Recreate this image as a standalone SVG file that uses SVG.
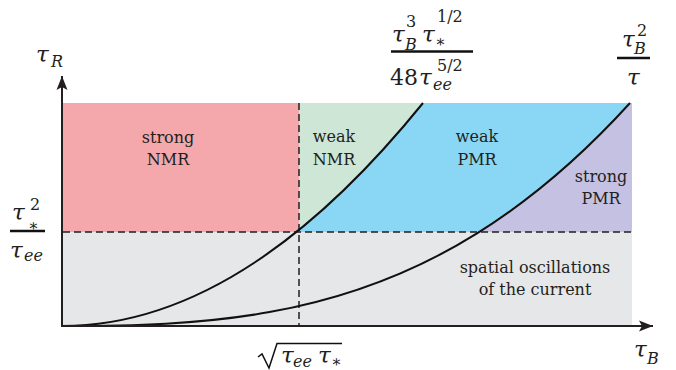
<svg xmlns="http://www.w3.org/2000/svg" width="676" height="370" viewBox="0 0 676 370">
<style>
.lbl{font-family:"DejaVu Serif",serif;font-size:16px;fill:#231f20;text-anchor:middle}
.m{font-family:"DejaVu Serif",serif;fill:#231f20;font-size:23px}
.it{font-style:italic}
.sm{font-size:16px}
.dash{stroke:#231f20;stroke-width:1.5;stroke-dasharray:7 4;fill:none}
.curve{stroke:#111;stroke-width:2;fill:none}
.axis{stroke:#231f20;stroke-width:2;fill:none}
.bar{stroke:#111;stroke-width:2.5}
</style>
<defs>
<marker id="arr" markerUnits="userSpaceOnUse" markerWidth="15" markerHeight="12" refX="14" refY="5.5" orient="auto" viewBox="0 0 15 11">
<path d="M0,0 L14,5.5 L0,11 L3,5.5 Z" fill="#231f20"/>
</marker>
<clipPath id="band"><rect x="63" y="103" width="569" height="129"/></clipPath>
</defs>
<g id="regions">
<rect id="oscillations" x="63" y="232" width="569" height="94" fill="#E6E7E8"/>
<rect id="strongNMR" x="63" y="103" width="236" height="129" fill="#F5A8AC"/>
<rect id="weakNMR" x="299" y="103" width="333" height="129" fill="#CDE6D6"/>
<path id="weakPMR" clip-path="url(#band)" d="M62,326 Q242.5,326 423,103 L632,103 L632,326 Z" fill="#8AD7F5"/>
<path id="strongPMR" clip-path="url(#band)" d="M62,326 C200.3,326 338.7,319.8 477,233.4 C528,201.5 579,159.1 630,103 L632,103 L632,326 Z" fill="#C5C1E2"/>
</g>
<g id="connectors">
<line class="dash" x1="63" y1="232" x2="632" y2="232"/>
<line class="dash" x1="299" y1="103" x2="299" y2="326"/>
<path class="curve" d="M62,326 Q242.5,326 423,103"/>
<path class="curve" d="M62,326 C200.3,326 338.7,319.8 477,233.4 C528,201.5 579,159.1 630,103"/>
<line class="axis" x1="62" y1="327" x2="62" y2="76" marker-end="url(#arr)"/>
<line class="axis" x1="61" y1="326" x2="653" y2="326" marker-end="url(#arr)"/>
</g>
<g id="labels">
<text class="lbl" x="168" y="143">strong</text>
<text class="lbl" x="168" y="165">NMR</text>
<text class="lbl" x="334" y="142">weak</text>
<text class="lbl" x="334" y="165">NMR</text>
<text class="lbl" x="477" y="142">weak</text>
<text class="lbl" x="477" y="165">PMR</text>
<text class="lbl" x="601" y="182">strong</text>
<text class="lbl" x="601" y="204">PMR</text>
<text class="lbl" x="535" y="273">spatial oscillations</text>
<text class="lbl" x="535" y="295">of the current</text>
</g>
<g id="axis-tauR">
<text class="m it" x="36" y="62">τ<tspan class="sm" x="51" y="67">R</tspan></text>
</g>
<g id="axis-tauB">
<text class="m it" x="634" y="357">τ<tspan class="sm" x="647" y="364">B</tspan></text>
</g>
<g id="frac-left">
<text class="m it" x="12" y="220">τ<tspan class="sm" font-style="normal" x="30" y="210">2</tspan><tspan class="sm" font-style="normal" x="28" y="231">∗</tspan></text>
<line class="bar" x1="10" y1="231" x2="45" y2="231"/>
<text class="m it" x="10" y="258">τ<tspan class="sm" x="24" y="261">ee</tspan></text>
</g>
<g id="frac-top">
<text class="m it" x="392" y="42">τ<tspan class="sm" font-style="normal" x="406" y="27">3</tspan><tspan class="sm" x="405" y="50">B</tspan><tspan x="422" y="42">τ</tspan><tspan class="sm" font-style="normal" x="437" y="22">1/2</tspan><tspan class="sm" font-style="normal" x="435" y="47">∗</tspan></text>
<line class="bar" x1="391" y1="51.5" x2="473" y2="51.5"/>
<text class="m" x="390" y="85"><tspan font-size="22">48</tspan><tspan class="it" x="419" y="85">τ</tspan><tspan class="sm" x="437" y="71">5/2</tspan><tspan class="sm it" x="433" y="90">ee</tspan></text>
</g>
<g id="frac-right">
<text class="m it" x="622" y="47">τ<tspan class="sm" font-style="normal" x="637" y="36">2</tspan><tspan class="sm" x="634" y="54">B</tspan></text>
<line class="bar" x1="617" y1="58" x2="650" y2="58"/>
<text class="m it" x="627" y="85">τ</text>
</g>
<g id="sqrt-label">
<path d="M258,357 L262,354 L269,368 L277,343.5 L342,343.5" fill="none" stroke="#111" stroke-width="1.5" stroke-linejoin="miter"/>
<text class="m it" x="281" y="363">τ<tspan class="sm" x="293" y="367">ee</tspan><tspan x="318" y="363">τ</tspan><tspan class="sm" font-style="normal" x="331" y="367">∗</tspan></text>
</g>
</svg>
